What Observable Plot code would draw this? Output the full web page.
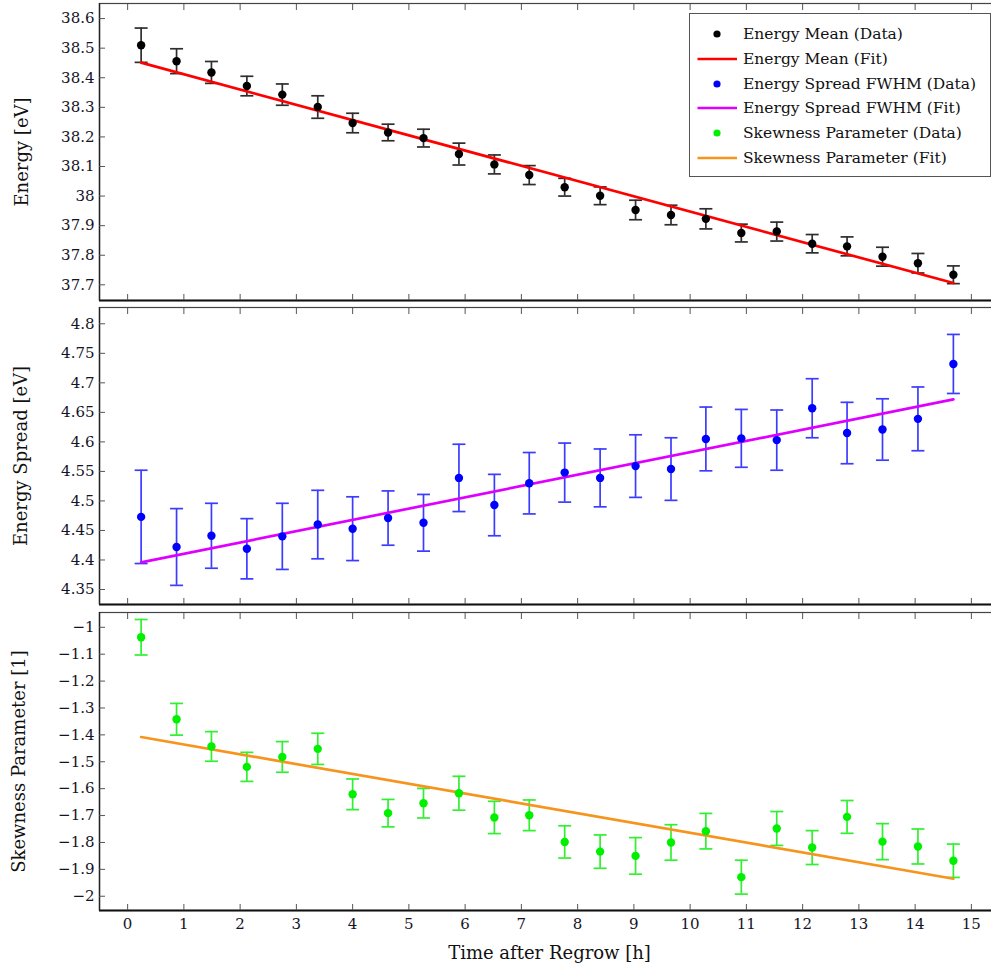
<!DOCTYPE html>
<html><head><meta charset="utf-8">
<script src="https://cdn.jsdelivr.net/npm/d3@7"></script>
<script src="https://cdn.jsdelivr.net/npm/@observablehq/plot@0.6"></script>
<style>
html,body{margin:0;padding:0;background:#fff;overflow:hidden}
#chart{position:relative;width:991px;height:972px;overflow:hidden;font-family:"DejaVu Serif",serif}
.panel{position:absolute;left:0}
.panel svg{max-width:none !important}
#legend{position:absolute;left:689px;top:13px;width:302px;height:164px;border:1px solid #555;background:#fff;box-sizing:border-box;font-family:"DejaVu Serif",serif;font-size:15.5px;color:#111}
.row{position:absolute;left:0;height:24px;width:100%}
.row svg{position:absolute;left:0;top:0}
.row span{position:absolute;left:53px;top:2px;white-space:nowrap;line-height:20px}
</style></head>
<body><div id="chart"></div>
<script>
// ---- data ----
const time = [0.24, 0.87, 1.49, 2.12, 2.75, 3.38, 4.0, 4.63, 5.26, 5.89, 6.52, 7.14, 7.77, 8.40, 9.03, 9.66, 10.28, 10.91, 11.54, 12.17, 12.79, 13.42, 14.05, 14.68];

const energyMean = [38.510, 38.456, 38.418, 38.372, 38.343, 38.301, 38.247, 38.215, 38.196, 38.142, 38.107, 38.071, 38.030, 38.001, 37.953, 37.936, 37.923, 37.875, 37.880, 37.839, 37.830, 37.795, 37.773, 37.734];
const energyMeanErr = [0.058, 0.042, 0.037, 0.033, 0.036, 0.038, 0.033, 0.028, 0.030, 0.037, 0.032, 0.032, 0.030, 0.030, 0.033, 0.033, 0.034, 0.030, 0.032, 0.031, 0.032, 0.032, 0.033, 0.030];

const energySpread = [4.473, 4.422, 4.441, 4.419, 4.440, 4.460, 4.453, 4.471, 4.463, 4.539, 4.493, 4.530, 4.548, 4.539, 4.559, 4.554, 4.605, 4.606, 4.603, 4.657, 4.615, 4.621, 4.639, 4.732];
const energySpreadErr = [0.079, 0.065, 0.055, 0.051, 0.056, 0.058, 0.054, 0.046, 0.048, 0.057, 0.052, 0.052, 0.050, 0.049, 0.053, 0.053, 0.054, 0.049, 0.051, 0.050, 0.052, 0.052, 0.054, 0.050];

const skewness = [-1.037, -1.342, -1.443, -1.519, -1.482, -1.452, -1.621, -1.691, -1.654, -1.617, -1.707, -1.699, -1.798, -1.834, -1.850, -1.800, -1.758, -1.929, -1.748, -1.819, -1.705, -1.797, -1.815, -1.868];
const skewnessErr = [0.066, 0.059, 0.055, 0.054, 0.057, 0.058, 0.057, 0.051, 0.055, 0.063, 0.060, 0.057, 0.060, 0.062, 0.068, 0.066, 0.066, 0.063, 0.063, 0.063, 0.061, 0.067, 0.065, 0.062];

const fitTime = [0.24, 14.68];
const energyMeanFit = [38.451, 37.706];
const energySpreadFit = [4.396, 4.672];
const skewnessFit = [-1.408, -1.935];

const xTicks = [0,1,2,3,4,5,6,7,8,9,10,11,12,13,14,15];
const meanTicks = [37.7, 37.8, 37.9, 38, 38.1, 38.2, 38.3, 38.4, 38.5, 38.6];
const spreadTicks = [4.35, 4.4, 4.45, 4.5, 4.55, 4.6, 4.65, 4.7, 4.75, 4.8];
const skewTicks = [-2, -1.9, -1.8, -1.7, -1.6, -1.5, -1.4, -1.3, -1.2, -1.1, -1];

const xTitle = "Time after Regrow [h]";
const meanTitle = "Energy [eV]";
const spreadTitle = "Energy Spread [eV]";
const skewTitle = "Skewness Parameter [1]";

const legendLabels = ["Energy Mean (Data)", "Energy Mean (Fit)", "Energy Spread FWHM (Data)", "Energy Spread FWHM (Fit)", "Skewness Parameter (Data)", "Skewness Parameter (Fit)"];
const legendKinds = ["dot", "line", "dot", "line", "dot", "line"];

const colors = {
  mean: "#000000", meanErr: "#2e2e2e", meanFit: "#ff0000",
  spread: "#0000ff", spreadErr: "#3c3cff", spreadFit: "#dd00ff",
  skew: "#00f000", skewErr: "#30f030", skewFit: "#f7941d"
};
const legendColors = [colors.mean, colors.meanFit, colors.spread, colors.spreadFit, colors.skew, colors.skewFit];

// ---- drawing ----
const cap = {draw(ctx){ ctx.moveTo(-6.5, 0); ctx.lineTo(6.5, 0); }};
const fmt = d3.format("");

function panel({top, height, mb, ydomain, yticks, ytitle, titleDx, values, errs, fit, dotColor, errColor, fitColor, xlabels}) {
  const rows = time.map((t, i) => ({t, v: values[i], lo: values[i] - errs[i], hi: values[i] + errs[i]}));
  const fitRows = fitTime.map((t, i) => ({t, v: fit[i]}));
  const marks = [
    Plot.ruleX(rows, {x: "t", y1: "lo", y2: "hi", stroke: errColor, strokeWidth: 1.7}),
    Plot.dot(rows, {x: "t", y: "lo", symbol: cap, stroke: errColor, strokeWidth: 1.7, fill: "none"}),
    Plot.dot(rows, {x: "t", y: "hi", symbol: cap, stroke: errColor, strokeWidth: 1.7, fill: "none"}),
    Plot.line(fitRows, {x: "t", y: "v", stroke: fitColor, strokeWidth: 2.7}),
    Plot.dot(rows, {x: "t", y: "v", r: 4.2, fill: dotColor, stroke: "none"}),
    Plot.frame({stroke: "#444", strokeWidth: 1.2}),
    Plot.ruleY([ydomain[0]], {stroke: "#111", strokeWidth: 2.2}),
    Plot.ruleX([-0.5], {stroke: "#222", strokeWidth: 1.4}),
    Plot.axisX({anchor: "bottom", ticks: xTicks, tickSize: -6, tickFormat: () => "", stroke: "#555", label: null}),
    Plot.axisX({anchor: "top", ticks: xTicks, tickSize: -6, tickFormat: () => "", stroke: "#555", label: null}),
    Plot.axisY({anchor: "left", ticks: yticks, tickSize: -6, tickFormat: () => "", stroke: "#555", label: null}),
    Plot.axisY({anchor: "left", ticks: yticks, tickSize: 0, tickPadding: 5, tickFormat: fmt, label: null, fill: "#141428"}),
    Plot.text([ytitle], {text: d => d, frameAnchor: "left", textAnchor: "middle", rotate: -90, dx: titleDx, fontSize: 18, fill: "#111"})
  ];
  if (xlabels) {
    marks.push(Plot.axisX({anchor: "bottom", ticks: xTicks, tickSize: 0, tickPadding: 8, tickFormat: fmt, label: null, fill: "#141428"}));
    marks.push(Plot.text([xTitle], {text: d => d, frameAnchor: "bottom", textAnchor: "middle", dy: 48, fontSize: 18, fill: "#111"}));
  }
  const svg = Plot.plot({
    width: 1000, height, marginLeft: 99, marginRight: 1, marginTop: 3, marginBottom: mb,
    style: {fontFamily: "DejaVu Serif", fontSize: "15px", background: "transparent", overflow: "visible", maxWidth: "none"},
    x: {domain: [-0.5, 15.5], label: null},
    y: {domain: ydomain, label: null},
    marks
  });
  svg.style.maxWidth = "none";
  svg.setAttribute("width", 1000);
  const div = document.createElement("div");
  div.className = "panel";
  div.style.top = top + "px";
  div.style.width = "1000px";
  div.appendChild(svg);
  return div;
}

const chart = document.getElementById("chart");
chart.appendChild(panel({top: 0, height: 303, mb: 3, ydomain: [37.647, 38.651], yticks: meanTicks, ytitle: meanTitle, titleDx: -77,
  values: energyMean, errs: energyMeanErr, fit: energyMeanFit, dotColor: colors.mean, errColor: colors.meanErr, fitColor: colors.meanFit}));
chart.appendChild(panel({top: 304, height: 303, mb: 3, ydomain: [4.3246, 4.8276], yticks: spreadTicks, ytitle: spreadTitle, titleDx: -78.5,
  values: energySpread, errs: energySpreadErr, fit: energySpreadFit, dotColor: colors.spread, errColor: colors.spreadErr, fitColor: colors.spreadFit}));
chart.appendChild(panel({top: 609, height: 363, mb: 62, ydomain: [-2.053, -0.945], yticks: skewTicks, ytitle: skewTitle, titleDx: -80.5,
  values: skewness, errs: skewnessErr, fit: skewnessFit, dotColor: colors.skew, errColor: colors.skewErr, fitColor: colors.skewFit, xlabels: true}));

// legend
const legend = document.createElement("div");
legend.id = "legend";
legendLabels.forEach((label, i) => {
  const row = document.createElement("div");
  row.className = "row";
  row.style.top = (8 + i * 24.8) + "px";
  const ns = "http://www.w3.org/2000/svg";
  const s = document.createElementNS(ns, "svg");
  s.setAttribute("width", 52); s.setAttribute("height", 24);
  if (legendKinds[i] === "dot") {
    const c = document.createElementNS(ns, "circle");
    c.setAttribute("cx", 27); c.setAttribute("cy", 12); c.setAttribute("r", 3.6); c.setAttribute("fill", legendColors[i]);
    s.appendChild(c);
  } else {
    const l = document.createElementNS(ns, "line");
    l.setAttribute("x1", 7.5); l.setAttribute("x2", 47); l.setAttribute("y1", 12); l.setAttribute("y2", 12);
    l.setAttribute("stroke", legendColors[i]); l.setAttribute("stroke-width", 2.7);
    s.appendChild(l);
  }
  row.appendChild(s);
  const sp = document.createElement("span");
  sp.textContent = label;
  row.appendChild(sp);
  legend.appendChild(row);
});
chart.appendChild(legend);
</script>
</body></html>
